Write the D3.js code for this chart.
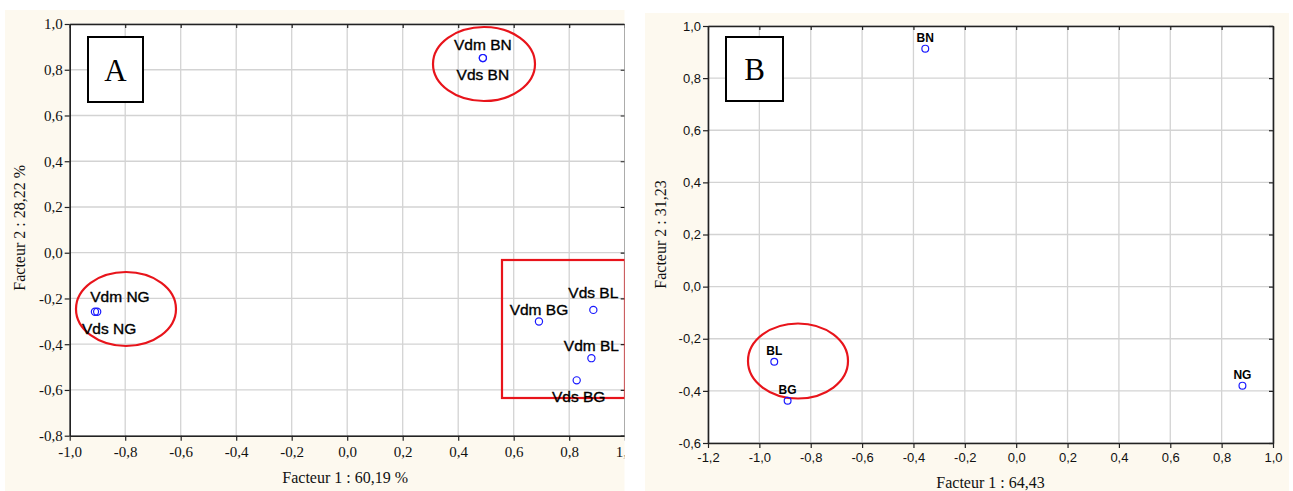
<!DOCTYPE html>
<html><head><meta charset="utf-8">
<script src="https://cdn.jsdelivr.net/npm/d3@7"></script>
<style>
body{margin:0;background:#fff;}
svg{display:block;}
</style></head>
<body>
<svg id="chart" width="1293" height="491"></svg>
<script>
// ---- Panel A data ----
const labelsA = ["Vdm BN","Vds BN","Vdm NG","Vds NG","Vdm BG","Vds BL","Vdm BL","Vds BG"];
const xA = [0.489, 0.489, -0.909, -0.901, 0.691, 0.887, 0.880, 0.827];
const yA = [0.851, 0.851, -0.258, -0.258, -0.301, -0.250, -0.461, -0.558];
const xTicksA = [-1.0,-0.8,-0.6,-0.4,-0.2,0.0,0.2,0.4,0.6,0.8,1.0];
const yTicksA = [-0.8,-0.6,-0.4,-0.2,0.0,0.2,0.4,0.6,0.8,1.0];
const xTitleA = "Facteur 1 : 60,19 %";
const yTitleA = "Facteur 2 : 28,22 %";

// ---- Panel B data ----
const labelsB = ["BN","BL","BG","NG"];
const xB = [-0.354, -0.942, -0.890, 0.881];
const yB = [0.913, -0.288, -0.438, -0.380];
const xTicksB = [-1.2,-1.0,-0.8,-0.6,-0.4,-0.2,0.0,0.2,0.4,0.6,0.8,1.0];
const yTicksB = [-0.6,-0.4,-0.2,0.0,0.2,0.4,0.6,0.8,1.0];
const xTitleB = "Facteur 1 : 64,43";
const yTitleB = "Facteur 2 : 31,23";

// label placement (pixel offsets from point: dx, dy of baseline, anchor)
const offA = [[0,-8,"middle"],[0,22,"middle"],[25,-10,"middle"],[12,22,"middle"],
              [0,-7,"middle"],[0,-12,"middle"],[0,-7,"middle"],[2,22,"middle"]];

const loc = d3.formatLocale({decimal:",", thousands:" ", grouping:[3], currency:["",""], minus:"-"});
const fmt = loc.format(".1f");

const svg = d3.select("#chart");
const CREAM = "#fdf9ef";

svg.append("defs").append("clipPath").attr("id","clipA")
  .append("rect").attr("x",0).attr("y",0).attr("width",624.5).attr("height",491);

function panel(g, cfg){
  const {x, y, xTicks, yTicks, tickFont, tickSize, titleFont} = cfg;
  const [x0,x1] = x.range(), [y0,y1] = y.range();
  g.append("rect").attr("x",cfg.bg[0]).attr("y",cfg.bg[1]).attr("width",cfg.bg[2]).attr("height",cfg.bg[3]).attr("fill",CREAM);
  g.append("rect").attr("x",x0).attr("y",y1).attr("width",x1-x0).attr("height",y0-y1).attr("fill","#fff");
  // grid
  g.append("g").selectAll("line").data(xTicks).join("line")
    .attr("x1",d=>x(d)).attr("x2",d=>x(d)).attr("y1",y1).attr("y2",y0)
    .attr("stroke","#d3d3d3").attr("stroke-width",1.3);
  g.append("g").selectAll("line").data(yTicks).join("line")
    .attr("x1",x0).attr("x2",x1).attr("y1",d=>y(d)).attr("y2",d=>y(d))
    .attr("stroke","#d3d3d3").attr("stroke-width",1.3);
  const style = a => {
    a.selectAll("path").attr("stroke","#222").attr("stroke-width",1.6);
    a.selectAll("line").attr("stroke","#222").attr("stroke-width",1.2);
    a.selectAll("text").attr("fill","#111").style("font-family",tickFont).style("font-size",tickSize+"px");
  };
  g.append("g").attr("transform",`translate(0,${y0})`)
    .call(d3.axisBottom(x).tickValues(xTicks).tickFormat(fmt).tickSize(5).tickPadding(cfg.xPad).tickSizeOuter(0)).call(style);
  g.append("g").attr("transform",`translate(${x0},0)`)
    .call(d3.axisLeft(y).tickValues(yTicks).tickFormat(fmt).tickSize(5).tickPadding(cfg.yPad).tickSizeOuter(0)).call(style);
  g.append("g").attr("transform",`translate(0,${y1})`)
    .call(d3.axisTop(x).tickValues(xTicks).tickFormat("").tickSize(-4).tickSizeOuter(0)).call(style);
  g.append("g").attr("transform",`translate(${x1},0)`)
    .call(d3.axisRight(y).tickValues(yTicks).tickFormat("").tickSize(-4).tickSizeOuter(0)).call(style);
  // titles
  g.append("text").attr("x",(x0+x1)/2 + cfg.xTitleDx).attr("y",cfg.xTitleY).attr("text-anchor","middle")
    .style("font-family",titleFont).style("font-size","16px").attr("fill","#111").text(cfg.xTitle);
  g.append("text").attr("transform",`translate(${cfg.yTitleX},${(y0+y1)/2 + cfg.yTitleDy}) rotate(-90)`).attr("text-anchor","middle")
    .style("font-family",titleFont).style("font-size","16px").attr("fill","#111").text(cfg.yTitle);
  // letter box
  g.append("rect").attr("x",cfg.box[0]).attr("y",cfg.box[1]).attr("width",cfg.box[2]).attr("height",cfg.box[3])
    .attr("fill","#fff").attr("stroke","#000").attr("stroke-width",2);
  g.append("text").attr("x",cfg.box[0]+cfg.box[2]/2).attr("y",cfg.box[1]+cfg.box[3]/2+11).attr("text-anchor","middle")
    .style("font-family","'Liberation Serif', serif").style("font-size","31px").attr("fill","#000").text(cfg.letter);
}

// ---- Panel A ----
const xa = d3.scaleLinear().domain([-1,1]).range([69.7,624.7]);
const ya = d3.scaleLinear().domain([-0.8,1]).range([435.7,24]);
const gA = svg.append("g").attr("clip-path","url(#clipA)");
panel(gA, {x:xa, y:ya, xTicks:xTicksA, yTicks:yTicksA, tickFont:"'Liberation Serif', serif", tickSize:15,
  titleFont:"'Liberation Serif', serif", xPad:6, yPad:2, bg:[5,10,620,481],
  xTitle:xTitleA, yTitle:yTitleA, xTitleY:483, xTitleDx:-2, yTitleX:25, yTitleDy:-2,
  box:[88,37,55,65], letter:"A"});

// annotations A
const annA = gA.append("g").attr("fill","none").attr("stroke","#e8141b").attr("stroke-width",2.2);
annA.append("ellipse").attr("cx",126).attr("cy",309).attr("rx",50).attr("ry",37);
annA.append("ellipse").attr("cx",484).attr("cy",64).attr("rx",51).attr("ry",37);
annA.append("rect").attr("x",502).attr("y",260).attr("width",123).attr("height",138);

const ptsA = labelsA.map((l,i)=>({l, x:xA[i], y:yA[i], o:offA[i]}));
gA.append("g").selectAll("circle").data(ptsA).join("circle")
  .attr("cx",d=>xa(d.x)).attr("cy",d=>ya(d.y)).attr("r",3.6)
  .attr("fill","none").attr("stroke","#1a1aff").attr("stroke-width",1.2);
gA.append("g").selectAll("text").data(ptsA).join("text")
  .attr("x",d=>xa(d.x)+d.o[0]).attr("y",d=>ya(d.y)+d.o[1]).attr("text-anchor",d=>d.o[2])
  .style("font-family","'Liberation Sans', Arial, sans-serif").style("font-size","15.5px").attr("fill","#000")
  .attr("stroke","#000").attr("stroke-width",0.35)
  .text(d=>d.l);

// ---- Panel B ----
const xb = d3.scaleLinear().domain([-1.2,1]).range([708,1273]);
const yb = d3.scaleLinear().domain([-0.6,1]).range([443,26]);
const gB = svg.append("g");
panel(gB, {x:xb, y:yb, xTicks:xTicksB, yTicks:yTicksB, tickFont:"'Liberation Sans', Arial, sans-serif", tickSize:13,
  titleFont:"'Liberation Serif', serif", xPad:5, yPad:2, bg:[645,13,644,478],
  xTitle:xTitleB, yTitle:yTitleB, xTitleY:488, xTitleDx:0, yTitleX:666, yTitleDy:0,
  box:[726,37,57,64], letter:"B"});

const annB = gB.append("g").attr("fill","none").attr("stroke","#e8141b").attr("stroke-width",2.2);
annB.append("ellipse").attr("cx",798).attr("cy",361).attr("rx",50).attr("ry",37.5);

const ptsB = labelsB.map((l,i)=>({l, x:xB[i], y:yB[i]}));
gB.append("g").selectAll("circle").data(ptsB).join("circle")
  .attr("cx",d=>xb(d.x)).attr("cy",d=>yb(d.y)).attr("r",3.4)
  .attr("fill","none").attr("stroke","#1a1aff").attr("stroke-width",1.2);
gB.append("g").selectAll("text").data(ptsB).join("text")
  .attr("x",d=>xb(d.x)).attr("y",d=>yb(d.y)-7).attr("text-anchor","middle")
  .style("font-family","'Liberation Sans', Arial, sans-serif").style("font-size","12px").style("font-weight","bold").attr("fill","#000")
  .text(d=>d.l);
</script>
</body></html>
